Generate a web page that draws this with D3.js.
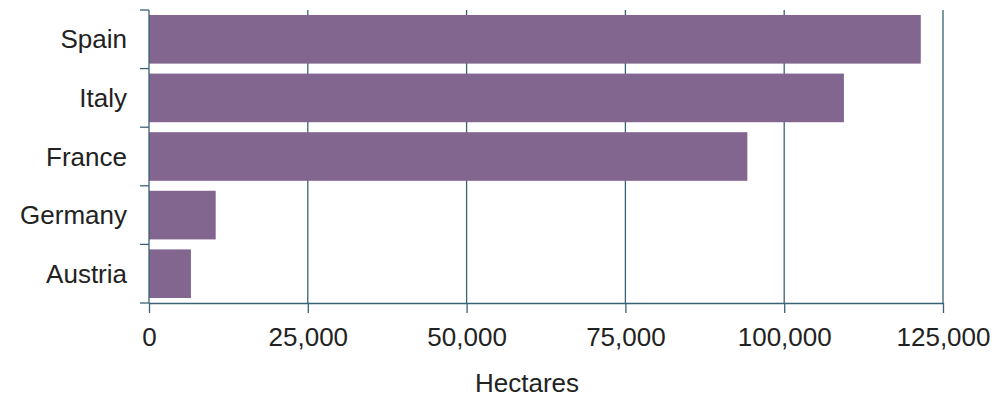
<!DOCTYPE html>
<html>
<head>
<meta charset="utf-8">
<script src="https://cdn.jsdelivr.net/npm/d3@7"></script>
<style>
  html, body { margin: 0; padding: 0; background: #fff; }
  svg text { font-family: "Liberation Sans", Arial, sans-serif; fill: #222; }
</style>
</head>
<body>
<svg id="chart" width="994" height="399"></svg>
<script>
// Area by country, hectares
const countries = ["Spain", "Italy", "France", "Germany", "Austria"];
const hectares = [121500, 109400, 94200, 10500, 6600];
const tickValues = [0, 25000, 50000, 75000, 100000, 125000];
const axisTitle = "Hectares";

const barColor = "#82668f";
const axisColor = "#3a6275";
const fontSize = 26;

const margin = { top: 10, right: 51, bottom: 96, left: 149 };
const width = 994, height = 399;
const svg = d3.select("#chart");

const x = d3.scaleLinear()
  .domain([0, 125000])
  .range([margin.left, width - margin.right]);

const y = d3.scaleBand()
  .domain(countries)
  .range([margin.top, height - margin.bottom])
  .paddingInner(0.17)
  .paddingOuter(0.085);

const plotTop = margin.top, plotBottom = height - margin.bottom;

// vertical gridlines
svg.append("g")
  .selectAll("line")
  .data(tickValues.slice(1))
  .join("line")
  .attr("x1", d => x(d)).attr("x2", d => x(d))
  .attr("y1", plotTop).attr("y2", plotBottom)
  .attr("stroke", axisColor).attr("stroke-width", 1.3);

// bars
svg.append("g")
  .selectAll("rect")
  .data(countries.map((c, i) => ({ c, v: hectares[i] })))
  .join("rect")
  .attr("x", x(0))
  .attr("y", d => y(d.c))
  .attr("width", d => x(d.v) - x(0))
  .attr("height", y.bandwidth())
  .attr("fill", barColor);

// x axis
const xAxis = svg.append("g")
  .attr("transform", `translate(0,${plotBottom})`)
  .call(d3.axisBottom(x)
    .tickValues(tickValues)
    .tickFormat(d3.format(","))
    .tickSize(10)
    .tickSizeOuter(0)
    .tickPadding(15));
xAxis.select(".domain").attr("stroke", axisColor).attr("stroke-width", 1.3);
xAxis.selectAll(".tick line").attr("stroke", axisColor).attr("stroke-width", 1.3);
xAxis.selectAll(".tick text").attr("font-size", fontSize).attr("fill", "#222");

// y axis: ticks sit at the band boundaries
const n = countries.length;
const boundaries = d3.range(n + 1).map(i => plotTop + i * (plotBottom - plotTop) / n);
const yAxisG = svg.append("g");
yAxisG.append("line")
  .attr("x1", x(0)).attr("x2", x(0))
  .attr("y1", plotTop).attr("y2", plotBottom)
  .attr("stroke", axisColor).attr("stroke-width", 1.3);
yAxisG.selectAll("line.tk")
  .data(boundaries)
  .join("line")
  .attr("class", "tk")
  .attr("x1", x(0) - 9).attr("x2", x(0))
  .attr("y1", d => d).attr("y2", d => d)
  .attr("stroke", axisColor).attr("stroke-width", 1.3);
yAxisG.selectAll("text")
  .data(countries)
  .join("text")
  .attr("x", x(0) - 22)
  .attr("y", d => y(d) + y.bandwidth() / 2)
  .attr("dy", "0.35em")
  .attr("text-anchor", "end")
  .attr("font-size", fontSize)
  .text(d => d);

// axis title
svg.append("text")
  .attr("x", 527)
  .attr("y", 392)
  .attr("text-anchor", "middle")
  .attr("font-size", fontSize)
  .text(axisTitle);
</script>
</body>
</html>
